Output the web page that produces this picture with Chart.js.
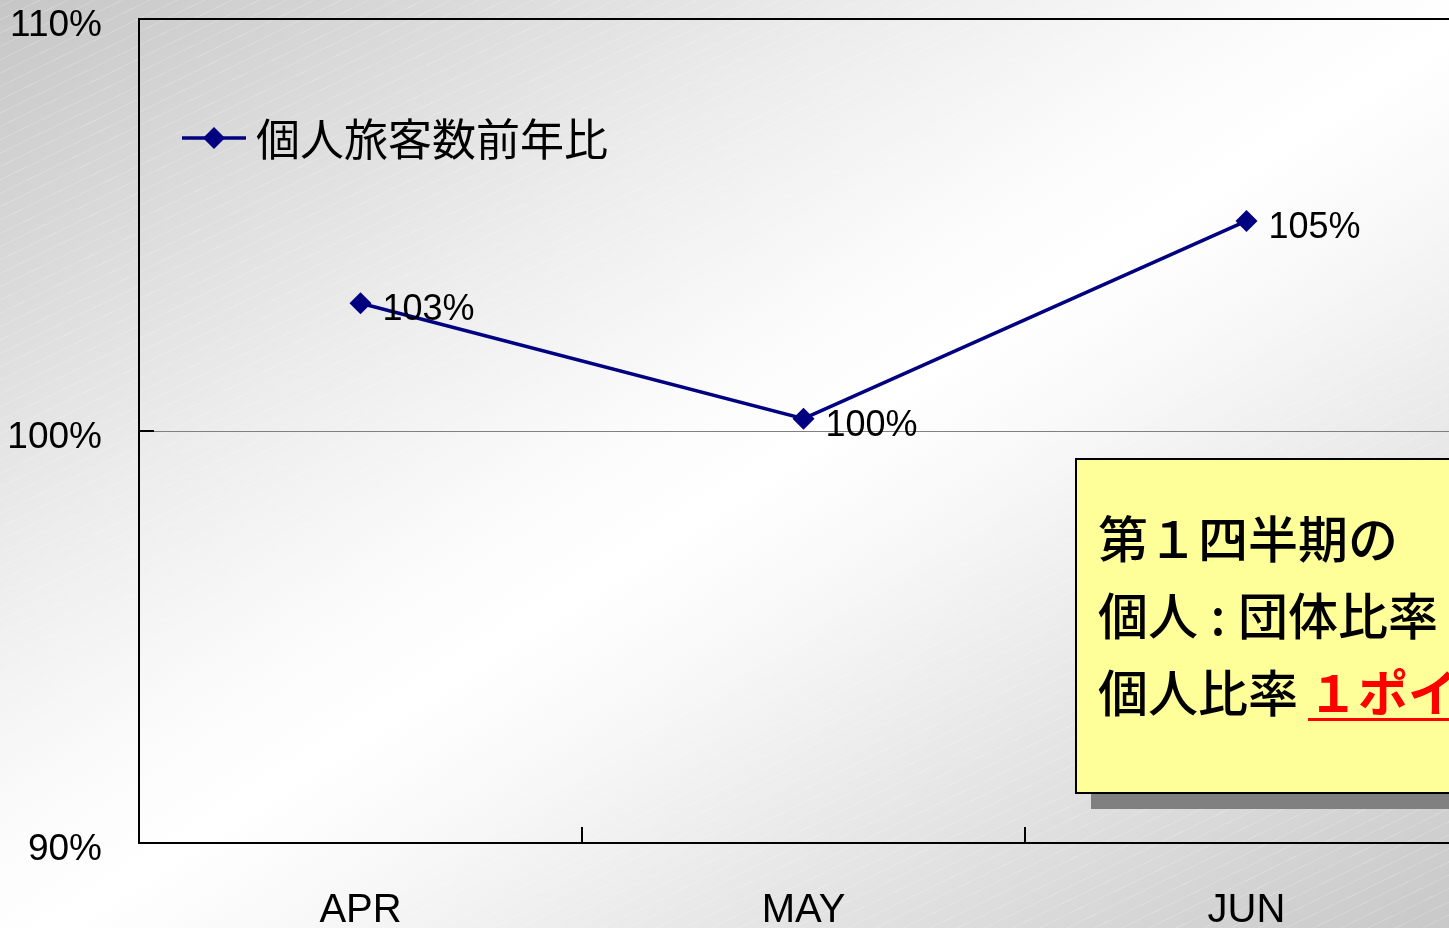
<!DOCTYPE html>
<html>
<head>
<meta charset="utf-8">
<script src="https://cdn.jsdelivr.net/npm/chart.js@4.4.1/dist/chart.umd.min.js"></script>
<style>
  html, body { margin:0; padding:0; width:1449px; height:928px; overflow:hidden; }
  body {
    position:relative;
    background:
      repeating-linear-gradient(-26deg, rgba(255,255,255,0) 0px, rgba(255,255,255,0) 11px, rgba(255,255,255,0.18) 11px, rgba(255,255,255,0.18) 12px),
      linear-gradient(to bottom right, #c6c6c6 0%, #ececec 30%, #fbfbfb 45%, #ffffff 52%, #f8f8f8 60%, #e6e6e6 75%, #c8c8c8 100%);
  }
  #wrap { position:absolute; left:0; top:-32px; width:1479px; height:960px; }
  #note {
    position:absolute; left:1075px; top:458px; width:420px; height:336px;
    background:#ffff99; border:2px solid #000;
    box-shadow:16px 15px 0 #808080;
    font-family:"Noto Sans CJK JP", sans-serif; font-weight:500; font-size:50px;
    line-height:77px; color:#000; padding:38px 0 0 21px; box-sizing:border-box;
    white-space:nowrap; overflow:hidden;
  }
  #note .colon { display:inline-block; width:40px; text-align:center; }
  #note .red { color:#ff0000; font-weight:700; text-decoration:underline; text-decoration-thickness:3px; text-underline-offset:6px; margin-left:10px; }
</style>
</head>
<body>
<div id="wrap"><canvas id="c" width="1479" height="960"></canvas></div>
<div id="note">第１四半期の<br>個人<span class="colon">:</span>団体比率<br>個人比率<span class="red">１ポイント増</span></div>
<script>
const categories = ["APR", "MAY", "JUN"];
const seriesName = "個人旅客数前年比";
const seriesValues = [103.1, 100.3, 105.1];
const valueLabels = ["103%", "100%", "105%"];
const yTicks = [90, 100, 110];

const LINE_COLOR = "#000080";
const NUM_FONT = "36px 'Liberation Sans', Arial, sans-serif";
const SHIFT = 32;

const overlay = {
  id: "overlay",
  afterDraw(chart) {
    const ctx = chart.ctx;
    const a = chart.chartArea;
    const xs = chart.scales.x, ys = chart.scales.y;
    ctx.save();
    ctx.strokeStyle = "#000"; ctx.lineWidth = 2;
    ctx.beginPath(); ctx.moveTo(a.left, a.top); ctx.lineTo(a.right, a.top); ctx.stroke();
    yTicks.forEach(v => {
      const y = ys.getPixelForValue(v);
      ctx.beginPath(); ctx.moveTo(a.left, y); ctx.lineTo(a.left + 15, y); ctx.stroke();
    });
    for (let i = 1; i < categories.length; i++) {
      const x = Math.round((xs.getPixelForValue(i - 1) + xs.getPixelForValue(i)) / 2);
      ctx.beginPath(); ctx.moveTo(x, a.bottom); ctx.lineTo(x, a.bottom - 16); ctx.stroke();
    }
    const meta = chart.getDatasetMeta(0);
    ctx.fillStyle = "#000"; ctx.font = NUM_FONT;
    ctx.textAlign = "left"; ctx.textBaseline = "middle";
    meta.data.forEach((pt, i) => {
      ctx.fillText(valueLabels[i], pt.x + 22, pt.y + 7);
    });
    const ly = 138 + SHIFT;
    ctx.strokeStyle = LINE_COLOR; ctx.lineWidth = 3.5;
    ctx.beginPath(); ctx.moveTo(182, ly); ctx.lineTo(246, ly); ctx.stroke();
    ctx.fillStyle = LINE_COLOR;
    ctx.beginPath();
    ctx.moveTo(214, ly - 11); ctx.lineTo(225, ly); ctx.lineTo(214, ly + 11); ctx.lineTo(203, ly);
    ctx.closePath(); ctx.fill();
    ctx.fillStyle = "#000";
    ctx.font = "44px 'Noto Sans CJK JP', sans-serif";
    ctx.textBaseline = "middle";
    ctx.fillText(seriesName, 256, ly + 1);
    ctx.restore();
  }
};

new Chart(document.getElementById("c"), {
  type: "line",
  data: {
    labels: categories,
    datasets: [{
      label: seriesName,
      data: seriesValues,
      borderColor: LINE_COLOR,
      backgroundColor: LINE_COLOR,
      borderWidth: 3.5,
      pointStyle: "rectRot",
      pointRadius: 11,
      pointHoverRadius: 11,
      pointBackgroundColor: LINE_COLOR,
      pointBorderColor: LINE_COLOR,
      pointBorderWidth: 0,
      tension: 0
    }]
  },
  options: {
    responsive: false,
    animation: false,
    events: [],
    layout: { padding: { top: 19, right: 4, left: 0, bottom: 0 } },
    plugins: { legend: { display: false }, tooltip: { enabled: false } },
    scales: {
      x: {
        offset: true,
        grid: { display: false, drawTicks: false },
        border: { display: true, color: "#000", width: 2 },
        ticks: { color: "#000", font: { family: "'Liberation Sans', Arial, sans-serif", size: 40 }, padding: 44, maxRotation: 0 },
        afterFit(s) { s.height = 85; }
      },
      y: {
        min: 90, max: 110,
        afterBuildTicks(s) { s.ticks = yTicks.map(v => ({ value: v })); },
        grid: {
          drawTicks: false,
          color: c => (c.tick && c.tick.value === 100) ? "#808080" : "rgba(0,0,0,0)",
          lineWidth: 1
        },
        border: { display: true, color: "#000", width: 2 },
        ticks: {
          color: "#000",
          font: { family: "'Liberation Sans', Arial, sans-serif", size: 37, lineHeight: "14px" },
          padding: 37,
          callback: v => ["", v + "%"]
        },
        afterFit(s) { s.width = 139; }
      }
    }
  },
  plugins: [overlay]
});
</script>
</body>
</html>
